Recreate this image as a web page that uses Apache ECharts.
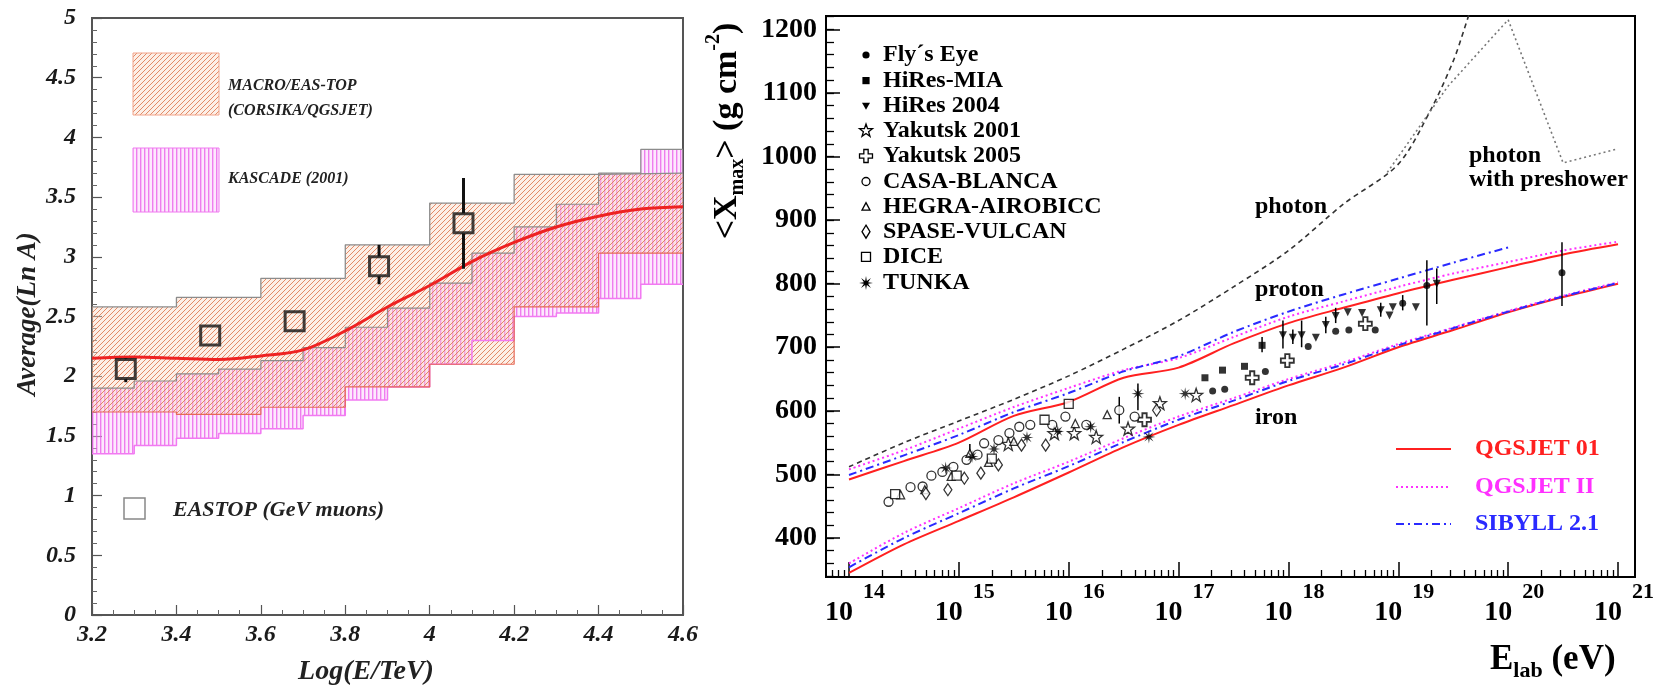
<!DOCTYPE html>
<html><head><meta charset="utf-8">
<script src="https://cdn.jsdelivr.net/npm/echarts/dist/echarts.min.js"></script>
<style>html,body{margin:0;padding:0;background:#fff}#c{width:1660px;height:691px}</style>
</head><body><div id="c"></div>
<script>
// ================= LEFT PANEL DATA =================
const macroEdges = [3.2, 3.4, 3.6, 3.8, 4.0, 4.2, 4.4, 4.6];
const macroLow   = [1.70, 1.68, 1.74, 1.91, 2.10, 2.58, 3.03];
const macroHigh  = [2.58, 2.66, 2.82, 3.10, 3.45, 3.69, 3.70];
const kascadeEdges = [3.2, 3.3, 3.4, 3.5, 3.6, 3.7, 3.8, 3.9, 4.0, 4.1, 4.2, 4.3, 4.4, 4.5, 4.6];
const kascadeLow   = [1.35, 1.42, 1.48, 1.52, 1.56, 1.67, 1.80, 1.91, 2.10, 2.30, 2.50, 2.53, 2.65, 2.77];
const kascadeHigh  = [1.90, 1.96, 2.02, 2.06, 2.13, 2.24, 2.41, 2.57, 2.78, 3.03, 3.25, 3.44, 3.70, 3.90];
const modelLogE = [3.2, 3.3, 3.4, 3.5, 3.6, 3.7, 3.8, 3.9, 4.0, 4.1, 4.2, 4.3, 4.4, 4.5, 4.6];
const modelLnA  = [2.15, 2.16, 2.15, 2.14, 2.17, 2.22, 2.38, 2.58, 2.76, 2.96, 3.12, 3.25, 3.34, 3.40, 3.42];
const eastopLogE = [3.28, 3.48, 3.68, 3.88, 4.08];
const eastopLnA  = [2.06, 2.34, 2.46, 2.92, 3.28];
const eastopLow  = [1.95, 2.30, 2.42, 2.77, 2.90];
const eastopHigh = [2.15, 2.38, 2.50, 3.10, 3.66];

// ================= RIGHT PANEL DATA =================
const modelE = [14, 14.5, 15, 15.5, 16, 16.5, 17, 17.5, 18, 18.5, 19, 19.5, 20, 20.5, 21];
const qgs01Proton = [492, 521, 550, 592, 614, 652, 668, 706, 738, 762, 785, 806, 826, 846, 862];
const qgsIIProton = [508, 538, 572, 606, 636, 664, 683, 716, 748, 772, 795, 816, 834, 852, 866];
const sibyllProton = [499, 530, 562, 598, 628, 662, 686, 724, 756, 783, 808, 833, 857];
const qgs01Iron = [345, 390, 427, 464, 503, 543, 578, 609, 640, 668, 700, 727, 755, 779, 800];
const qgsIIIron = [360, 408, 447, 486, 520, 557, 591, 620, 650, 676, 705, 731, 757, 781, 802];
const sibyllIron = [354, 400, 439, 478, 513, 551, 586, 616, 647, 673, 703, 730, 756, 780, 801];
const photonE = [14, 14.5, 15, 15.5, 16, 16.5, 17, 17.5, 18, 18.5, 19, 19.3, 19.5, 19.6, 19.7];
const photonX = [512, 550, 584, 618, 655, 697, 742, 795, 852, 925, 988, 1075, 1150, 1200, 1255];
const preshowerE = [18.9, 19.45, 20.0, 20.5, 21.0];
const preshowerX = [975, 1110, 1215, 990, 1012];

const flysEye = [[17.31,631],[17.42,634],[17.79,662],[18.18,701],[18.43,725],[18.55,727],[18.79,727],[19.04,769],[19.26,797],[20.49,817]];
const hiresMIA = [[17.24,652],[17.40,664],[17.60,670],[17.76,703]];
const hires2004 = [[17.95,719],[18.04,715],[18.12,719],[18.25,715],[18.34,735],[18.43,749],[18.54,755],[18.67,754],[18.84,758],[18.92,750],[18.95,763],[19.16,763],[19.35,800]];
const yakutsk2001 = [[15.45,548],[15.87,565],[16.05,565],[16.25,559],[16.54,572],[16.83,612],[17.16,625]];
const yakutsk2005 = [[16.69,586],[17.67,652],[17.99,679],[18.70,737]];
const casaBlanca = [[14.36,457],[14.56,480],[14.67,481],[14.75,498],[14.85,504],[14.95,512],[15.07,523],[15.17,531],[15.23,549],[15.36,554],[15.46,565],[15.55,575],[15.65,578],[15.85,578],[15.97,591],[16.16,578],[16.46,601],[16.60,591]];
const hegra = [[14.47,468],[14.69,476],[14.93,497],[15.10,533],[15.27,519],[15.50,552],[16.06,580],[16.35,594]];
const spase = [[14.70,470],[14.90,476],[15.05,494],[15.20,502],[15.36,515],[15.57,546],[15.79,546],[16.80,601]];
const dice = [[14.42,469],[14.98,498],[15.30,525],[15.78,586],[16.00,611]];
const tunka = [[14.88,510],[15.12,528],[15.32,540],[15.62,558],[15.90,568],[16.20,575],[16.63,627],[16.73,559],[17.06,627]];
const errorBars = [[16.46,580,622],[16.63,601,643],[17.95,698,742],[18.12,700,742],[18.04,705,728],[18.34,722,748],[18.43,738,762],[19.26,734,837],[19.35,768,824],[20.49,765,865],[15.10,520,548],[17.76,692,716],[18.84,748,770],[19.04,758,782]];

const xMajorTicks = [14, 15, 16, 17, 18, 19, 20, 21];
const yMajorTicks = [400, 500, 600, 700, 800, 900, 1000, 1100, 1200];
const legendNames = ["Fly\u00b4s Eye", "HiRes-MIA", "HiRes 2004", "Yakutsk 2001", "Yakutsk 2005", "CASA-BLANCA", "HEGRA-AIROBICC", "SPASE-VULCAN", "DICE", "TUNKA"];
const modelNames = ["QGSJET 01", "QGSJET II", "SIBYLL 2.1"];

// ================= STYLE / LAYOUT =================
const SERIF = "'Liberation Serif','Times New Roman',serif";
const X2MIN = 13.7906, X2MAX = 21.1546, Y2MIN = 338.7, Y2MAX = 1220.9;
const RED = '#ff2020', MAG = '#ff30ff', BLUE = '#2a2aff';

function makeDiag() {
  const c = document.createElement('canvas'); c.width = 5; c.height = 5;
  const g = c.getContext('2d');
  g.fillStyle = 'rgba(248,214,196,0.40)'; g.fillRect(0, 0, 5, 5);
  g.strokeStyle = 'rgba(222,120,80,0.85)'; g.lineWidth = 1;
  g.beginPath(); g.moveTo(0, 5); g.lineTo(5, 0); g.moveTo(-1, 1); g.lineTo(1, -1); g.moveTo(4, 6); g.lineTo(6, 4); g.stroke();
  return { image: c, repeat: 'repeat' };
}
function makeVert() {
  const c = document.createElement('canvas'); c.width = 4; c.height = 4;
  const g = c.getContext('2d');
  g.fillStyle = 'rgba(250,200,250,0.40)'; g.fillRect(0, 0, 4, 4);
  g.fillStyle = 'rgba(232,90,232,0.75)'; g.fillRect(0, 0, 1.4, 4);
  return { image: c, repeat: 'repeat' };
}
const diagPat = makeDiag(), vertPat = makeVert();

function zip(xs, ys) { return ys.map((y, i) => [xs[i], y]); }
function bandSeries(name, edges, lo, hi, pat) {
  return {
    type: 'custom', name, xAxisIndex: 0, yAxisIndex: 0, silent: true, z: 1, clip: true,
    data: lo.map((l, i) => [edges[i], edges[i + 1], l, hi[i]]),
    encode: { x: [0, 1], y: [2, 3] },
    renderItem(params, api) {
      const p0 = api.coord([api.value(0), api.value(3)]);
      const p1 = api.coord([api.value(1), api.value(2)]);
      return { type: 'rect', shape: { x: p0[0], y: p0[1], width: p1[0] - p0[0], height: p1[1] - p0[1] }, style: { fill: pat } };
    }
  };
}
function stepLine(edges, vals, color, width) {
  const d = vals.map((v, i) => [edges[i], v]);
  d.push([edges[edges.length - 1], vals[vals.length - 1]]);
  return { type: 'line', step: 'end', data: d, symbol: 'none', xAxisIndex: 0, yAxisIndex: 0, z: 3, silent: true,
    lineStyle: { color, width } };
}
function modelLine(name, ys, color, type) {
  return { type: 'line', name, data: zip(modelE, ys), symbol: 'none', smooth: 0.3, xAxisIndex: 1, yAxisIndex: 1, z: 3,
    silent: true, clip: true, lineStyle: { color, width: 2, type } };
}

const STAR = [[0,-10],[2.35,-3.24],[9.51,-3.09],[3.8,1.24],[5.88,8.09],[0,4],[-5.88,8.09],[-3.8,1.24],[-9.51,-3.09],[-2.35,-3.24]];
const CROSS = [[-3,-9],[3,-9],[3,-3],[9,-3],[9,3],[3,3],[3,9],[-3,9],[-3,3],[-9,3],[-9,-3],[-3,-3]];
const ASTER = [];
for (let i = 0; i < 16; i++) { const a = i * Math.PI / 8 - Math.PI / 2, r = i % 2 ? 3.2 : 10; ASTER.push([+(r * Math.cos(a)).toFixed(2), +(r * Math.sin(a)).toFixed(2)]); }
const toPath = pts => 'path://M' + pts.map(p => p.join(',')).join('L') + 'Z';

function scat(name, data, symbol, size, filled, extra) {
  return Object.assign({
    type: 'scatter', name, data, symbol, symbolSize: size, xAxisIndex: 1, yAxisIndex: 1, z: 5, silent: true,
    itemStyle: filled ? { color: '#000' } : { color: '#fff', borderColor: '#000', borderWidth: 1.3 }
  }, extra || {});
}

const ticksLabel = { fontFamily: SERIF, fontWeight: 'bold', fontStyle: 'italic', fontSize: 24, color: '#1a1a1a' };
const xMinorTicks = [];
for (let n = 13; n <= 21; n++) for (let k = 2; k <= 9; k++) { const v = n + Math.log10(k); if (v > X2MIN && v < X2MAX) xMinorTicks.push(v); }
const yMinorTicks = [];
for (let v = 340; v <= 1220; v += 20) yMinorTicks.push(v);

// ----- graphic: texts and legends -----
function T(x, y, text, size, extra, el) {
  return Object.assign({ type: 'text', x, y, silent: true, z: 50,
    style: Object.assign({ text, fontFamily: SERIF, fontWeight: 'bold', fontSize: size, fill: '#000', align: 'left', verticalAlign: 'middle' }, extra || {}) }, el || {});
}
const graphics = [];
// left legend
graphics.push({ type: 'rect', z: 40, silent: true, shape: { x: 133, y: 53, width: 86, height: 62 }, style: { fill: diagPat, stroke: '#f2a48a', lineWidth: 1 } });
graphics.push(T(228, 86, 'MACRO/EAS-TOP', 16, { fontStyle: 'italic', fill: '#222' }));
graphics.push(T(228, 111, '(CORSIKA/QGSJET)', 16, { fontStyle: 'italic', fill: '#222' }));
graphics.push({ type: 'rect', z: 40, silent: true, shape: { x: 133, y: 148, width: 86, height: 64 }, style: { fill: vertPat, stroke: '#f07af0', lineWidth: 1 } });
graphics.push(T(228, 179, 'KASCADE (2001)', 16, { fontStyle: 'italic', fill: '#222' }));
graphics.push({ type: 'rect', z: 40, silent: true, shape: { x: 124, y: 498, width: 21, height: 21 }, style: { fill: 'none', stroke: '#888', lineWidth: 1.5 } });
graphics.push(T(173, 510, 'EASTOP (GeV muons)', 22, { fontStyle: 'italic', fill: '#222' }));
graphics.push(T(28, 314, 'Average(Ln A)', 27, { fontStyle: 'italic', fill: '#222', align: 'center' }, { rotation: Math.PI / 2 }));
graphics.push(T(366, 672, 'Log(E/TeV)', 28, { fontStyle: 'italic', fill: '#222', align: 'center' }));
// right y title
graphics.push(T(727, 131, '{m|<X}{s|max}{m|> (g cm}{p|-2}{m|)}', 34, {
  align: 'center', rich: {
    m: { fontFamily: SERIF, fontWeight: 'bold', fontSize: 34, lineHeight: 34, padding: [7, 0, 7, 0], fill: '#000' },
    s: { fontFamily: SERIF, fontWeight: 'bold', fontSize: 20, lineHeight: 20, padding: [25, 0, 3, 0], fill: '#000' },
    p: { fontFamily: SERIF, fontWeight: 'bold', fontSize: 20, lineHeight: 20, padding: [1, 0, 27, 0], fill: '#000' }
  } }, { rotation: Math.PI / 2 }));
// E_lab
graphics.push(T(1490, 643, '{m|E}{s|lab}{m| (eV)}', 35, {
  verticalAlign: 'top', rich: {
    m: { fontFamily: SERIF, fontWeight: 'bold', fontSize: 35, lineHeight: 35, padding: [7, 0, 8, 0], fill: '#000' },
    s: { fontFamily: SERIF, fontWeight: 'bold', fontSize: 22, lineHeight: 22, padding: [25, 0, 3, 0], fill: '#000' }
  } }));
// right legend (experiments)
const legY = [55, 80.6, 105.7, 130.8, 156, 181.5, 206.6, 231.7, 256.8, 283];
const LX = 866;
const poly = (pts, s, y) => pts.map(p => [LX + p[0] * s, y + p[1] * s]);
const filled = { fill: '#000' }, open = { fill: '#fff', stroke: '#000', lineWidth: 1.3 };
graphics.push({ type: 'circle', z: 45, silent: true, shape: { cx: LX, cy: legY[0], r: 3.6 }, style: filled });
graphics.push({ type: 'rect', z: 45, silent: true, shape: { x: LX - 3.6, y: legY[1] - 3.6, width: 7.2, height: 7.2 }, style: filled });
graphics.push({ type: 'polygon', z: 45, silent: true, shape: { points: [[LX - 4, legY[2] - 3], [LX + 4, legY[2] - 3], [LX, legY[2] + 4]] }, style: filled });
graphics.push({ type: 'polygon', z: 45, silent: true, shape: { points: poly(STAR, 0.68, legY[3]) }, style: open });
graphics.push({ type: 'polygon', z: 45, silent: true, shape: { points: poly(CROSS, 0.72, legY[4]) }, style: open });
graphics.push({ type: 'circle', z: 45, silent: true, shape: { cx: LX, cy: legY[5], r: 4 }, style: open });
graphics.push({ type: 'polygon', z: 45, silent: true, shape: { points: [[LX - 4, legY[6] + 3.5], [LX + 4, legY[6] + 3.5], [LX, legY[6] - 4]] }, style: open });
graphics.push({ type: 'polygon', z: 45, silent: true, shape: { points: [[LX, legY[7] - 6.5], [LX + 4, legY[7]], [LX, legY[7] + 6.5], [LX - 4, legY[7]]] }, style: open });
graphics.push({ type: 'rect', z: 45, silent: true, shape: { x: LX - 4.5, y: legY[8] - 4.5, width: 9, height: 9 }, style: open });
graphics.push({ type: 'polygon', z: 45, silent: true, shape: { points: poly(ASTER, 0.7, legY[9]) }, style: filled });
legendNames.forEach((n, i) => graphics.push(T(883, legY[i], n, 24)));
// annotations
graphics.push(T(1255, 207, 'photon', 24));
graphics.push(T(1255, 290, 'proton', 24));
graphics.push(T(1255, 418, 'iron', 24));
graphics.push(T(1469, 156, 'photon', 24));
graphics.push(T(1469, 180, 'with preshower', 24));
// model legend
const mlY = [449, 487, 524], mlC = [RED, MAG, BLUE], mlD = [null, [2, 3], [8, 4, 2, 4]];
modelNames.forEach((n, i) => {
  graphics.push({ type: 'line', z: 45, silent: true, shape: { x1: 1396, y1: mlY[i], x2: 1451, y2: mlY[i] }, style: { stroke: mlC[i], lineWidth: 2, lineDash: mlD[i] } });
  graphics.push(T(1475, mlY[i], n, 24, { fill: mlC[i] }));
});

const option = {
  animation: false,
  backgroundColor: '#fff',
  grid: [
    { left: 92, top: 18, width: 591, height: 597, show: true, borderColor: '#555', borderWidth: 2, backgroundColor: 'transparent', outerBoundsMode: 'none', containLabel: false },
    { left: 826, top: 16, width: 809, height: 561, show: true, borderColor: '#000', borderWidth: 2, backgroundColor: 'transparent', outerBoundsMode: 'none', containLabel: false }
  ],
  xAxis: [
    { gridIndex: 0, type: 'value', min: 3.2, max: 4.6, interval: 0.2,
      axisLine: { show: true, lineStyle: { color: '#555', width: 2 } },
      axisTick: { show: true, inside: true, length: 10, lineStyle: { color: '#555', width: 1.2 } },
      minorTick: { show: true, splitNumber: 4, length: 5, lineStyle: { color: '#666', width: 1 } },
      axisLabel: Object.assign({ show: true, margin: 8, formatter: v => String(Math.round(v * 10) / 10) }, ticksLabel),
      splitLine: { show: false } },
    { gridIndex: 1, type: 'value', min: X2MIN, max: X2MAX, position: 'bottom', offset: 0,
      axisLine: { show: true, lineStyle: { color: '#000', width: 2 } },
      axisTick: { show: true, inside: true, length: 15, customValues: xMajorTicks, lineStyle: { color: '#000', width: 1.5 } },
      axisLabel: { show: true, customValues: xMajorTicks, margin: 13, formatter: v => '{a|10}{b|' + Math.round(v) + '}',
        rich: {
          a: { fontFamily: SERIF, fontWeight: 'bold', fontSize: 28, lineHeight: 28, padding: [18, 0, 0, 12], color: '#000' },
          b: { fontFamily: SERIF, fontWeight: 'bold', fontSize: 22, lineHeight: 22, padding: [0, 0, 24, 10], color: '#000' }
        } },
      splitLine: { show: false } },
    { gridIndex: 1, type: 'value', min: X2MIN, max: X2MAX, position: 'bottom', offset: 0,
      axisLine: { show: false }, axisLabel: { show: false }, splitLine: { show: false },
      axisTick: { show: true, inside: true, length: 7, customValues: xMinorTicks, lineStyle: { color: '#000', width: 1.3 } } }
  ],
  yAxis: [
    { gridIndex: 0, type: 'value', min: 0, max: 5, interval: 0.5,
      axisLine: { show: true, lineStyle: { color: '#555', width: 2 } },
      axisTick: { show: true, inside: true, length: 10, lineStyle: { color: '#555', width: 1.2 } },
      minorTick: { show: true, splitNumber: 5, length: 5, lineStyle: { color: '#666', width: 1 } },
      axisLabel: Object.assign({ show: true, margin: 16, formatter: v => String(Math.round(v * 10) / 10) }, ticksLabel),
      splitLine: { show: false } },
    { gridIndex: 1, type: 'value', min: Y2MIN, max: Y2MAX, position: 'left', offset: 0,
      axisLine: { show: true, lineStyle: { color: '#000', width: 2 } },
      axisTick: { show: true, inside: true, length: 14, customValues: yMajorTicks, lineStyle: { color: '#000', width: 1.5 } },
      axisLabel: { show: true, customValues: yMajorTicks, margin: 9, formatter: v => String(Math.round(v)), fontFamily: SERIF, fontWeight: 'bold', fontSize: 28, color: '#000' },
      splitLine: { show: false } },
    { gridIndex: 1, type: 'value', min: Y2MIN, max: Y2MAX, position: 'left', offset: 0,
      axisLine: { show: false }, axisLabel: { show: false }, splitLine: { show: false },
      axisTick: { show: true, inside: true, length: 8, customValues: yMinorTicks, lineStyle: { color: '#000', width: 1.3 } } }
  ],
  graphic: { elements: graphics },
  series: [
    bandSeries('KASCADE (2001)', kascadeEdges, kascadeLow, kascadeHigh, vertPat),
    bandSeries('MACRO/EAS-TOP', macroEdges, macroLow, macroHigh, diagPat),
    stepLine(kascadeEdges, kascadeLow, '#f27af2', 1.5),
    stepLine(kascadeEdges, kascadeHigh, '#8c8c8c', 1.2),
    stepLine(macroEdges, macroLow, '#e66a58', 1.2),
    stepLine(macroEdges, macroHigh, '#8c8c8c', 1.3),
    { type: 'line', name: 'model', data: zip(modelLogE, modelLnA), smooth: 0.35, symbol: 'none', xAxisIndex: 0, yAxisIndex: 0, z: 4, silent: true,
      lineStyle: { color: '#ee2222', width: 3 } },
    { type: 'custom', name: 'EASTOP errors', xAxisIndex: 0, yAxisIndex: 0, z: 5, silent: true,
      data: eastopLogE.map((x, i) => [x, eastopLnA[i], eastopLow[i], eastopHigh[i]]),
      encode: { x: 0, y: [1, 2, 3] },
      renderItem(params, api) {
        const pc = api.coord([api.value(0), api.value(1)]);
        const pl = api.coord([api.value(0), api.value(2)]);
        const ph = api.coord([api.value(0), api.value(3)]);
        const ch = [];
        if (ph[1] < pc[1] - 10) ch.push({ type: 'line', shape: { x1: pc[0], y1: ph[1], x2: pc[0], y2: pc[1] - 10 }, style: { stroke: '#111', lineWidth: 3 } });
        if (pl[1] > pc[1] + 10) ch.push({ type: 'line', shape: { x1: pc[0], y1: pc[1] + 10, x2: pc[0], y2: pl[1] }, style: { stroke: '#111', lineWidth: 3 } });
        return { type: 'group', children: ch };
      } },
    { type: 'scatter', name: 'EASTOP (GeV muons)', data: zip(eastopLogE, eastopLnA), symbol: 'rect', symbolSize: 19, xAxisIndex: 0, yAxisIndex: 0, z: 6, silent: true,
      itemStyle: { color: 'rgba(0,0,0,0)', borderColor: '#111', borderWidth: 3 } },

    // right panel
    { type: 'line', name: 'photon', data: zip(photonE, photonX), symbol: 'none', smooth: 0.3, xAxisIndex: 1, yAxisIndex: 1, z: 3, silent: true, clip: true,
      lineStyle: { color: '#333', width: 1.6, type: [5, 4] } },
    { type: 'line', name: 'photon with preshower', data: zip(preshowerE, preshowerX), symbol: 'none', xAxisIndex: 1, yAxisIndex: 1, z: 3, silent: true, clip: true,
      lineStyle: { color: '#777', width: 1.6, type: [2, 3] } },
    modelLine('QGSJET 01', qgs01Proton, RED, 'solid'),
    modelLine('QGSJET II', qgsIIProton, MAG, [2, 3]),
    modelLine('SIBYLL 2.1', sibyllProton, BLUE, [8, 4, 2, 4]),
    modelLine('QGSJET 01', qgs01Iron, RED, 'solid'),
    modelLine('QGSJET II', qgsIIIron, MAG, [2, 3]),
    modelLine('SIBYLL 2.1', sibyllIron, BLUE, [8, 4, 2, 4]),
    { type: 'custom', name: 'errors', xAxisIndex: 1, yAxisIndex: 1, z: 4, silent: true, data: errorBars, encode: { x: 0, y: [1, 2] },
      renderItem(params, api) {
        const a = api.coord([api.value(0), api.value(1)]), b = api.coord([api.value(0), api.value(2)]);
        return { type: 'line', shape: { x1: a[0], y1: a[1], x2: b[0], y2: b[1] }, style: { stroke: '#000', lineWidth: 1.5 } };
      } },
    scat(legendNames[0], flysEye, 'circle', 7, true),
    scat(legendNames[1], hiresMIA, 'rect', 7, true),
    scat(legendNames[2], hires2004, 'triangle', 8, true, { symbolRotate: 180 }),
    scat(legendNames[3], yakutsk2001, toPath(STAR), 13, false),
    scat(legendNames[4], yakutsk2005, toPath(CROSS), 13, false, { itemStyle: { color: '#fff', borderColor: '#000', borderWidth: 1.8 } }),
    scat(legendNames[5], casaBlanca, 'circle', 9, false),
    scat(legendNames[6], hegra, 'triangle', 8, false),
    scat(legendNames[7], spase, 'diamond', [8, 12], false),
    scat(legendNames[8], dice, 'rect', 9, false),
    scat(legendNames[9], tunka, toPath(ASTER), 13, true)
  ]
};
const chart = echarts.init(document.getElementById('c'), null, { renderer: 'canvas', width: 1660, height: 691 });
chart.setOption(option);
</script>
</body></html>
